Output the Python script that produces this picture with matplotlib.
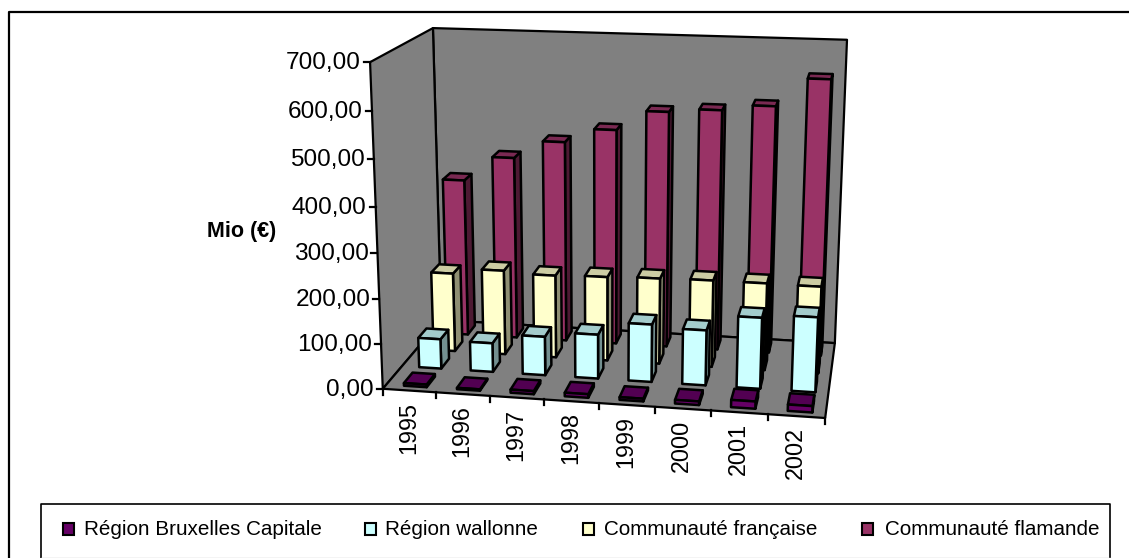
import numpy as np
import matplotlib
matplotlib.use('Agg')
import matplotlib.pyplot as plt
from matplotlib.patches import Polygon, Rectangle

plt.rcParams['font.family'] = ['Liberation Sans', 'DejaVu Sans']

years = ['1995', '1996', '1997', '1998', '1999', '2000', '2001', '2002']
series = ['Région Bruxelles Capitale', 'Région wallonne', 'Communauté française', 'Communauté flamande']
bruxelles = [6, 3, 7, 8, 6, 8, 16, 14]
wallonne = [68, 66, 88, 100, 130, 124, 159, 167]
francaise = [183, 196, 191, 194, 197, 199, 199, 198]
flamande = [369, 426, 467, 499, 544, 552, 565, 628]
values = [bruxelles, wallonne, francaise, flamande]
yticks = [0, 100, 200, 300, 400, 500, 600, 700]
ytick_labels = ['0,00', '100,00', '200,00', '300,00', '400,00', '500,00', '600,00', '700,00']

front = ['#660066', '#CCFFFF', '#FFFFCC', '#993366']
top = ['#520052', '#A3CCCC', '#CCCCA3', '#7A2952']
side = ['#330033', '#739090', '#8F8F73', '#4D1A33']

# box corners, pixels in the picture: (category, series, value) -> (px, py)
nx, ny, zmax = len(years), len(series), 700
known = [((0, 0, 0), (383, 388)), ((nx, 0, 0), (825, 419)), ((0, ny, 0), (441, 321)),
         ((nx, ny, 0), (835, 342)), ((0, 0, zmax), (370, 62)), ((0, ny, zmax), (433, 28)),
         ((nx, ny, zmax), (847, 40))]

rows, rhs = [], []
for (x, y, z), (px, py) in known:
    z = z / zmax
    rows.append([x, y, z, 1, 0, 0, 0, 0, -px * x, -px * y, -px * z])
    rows.append([0, 0, 0, 0, x, y, z, 1, -py * x, -py * y, -py * z])
    rhs += [px, py]
m = np.linalg.lstsq(np.array(rows, float), np.array(rhs, float), rcond=None)[0]
M = np.append(m, 1).reshape(3, 4)


def proj(x, y, z):
    p = M @ np.array([x, y, z / zmax, 1.0])
    return p[0] / p[2], p[1] / p[2]


fig = plt.figure(figsize=(11.29, 5.58), dpi=100)
ax = fig.add_axes([0, 0, 1, 1])
ax.set_xlim(0, 1129)
ax.set_ylim(558, 0)
ax.axis('off')

# outer frame and legend box
ax.plot([9, 9, 1129], [558, 12, 12], color='black', lw=1.6)
ax.plot([41, 41, 1110, 1110], [558, 504, 504, 558], color='black', lw=1.2)
ax.plot([41, 1110], [557.5, 557.5], color='#c8c8c8', lw=1)

# walls and floor
lw = 1.6
def face(pts, color, z=1, width=lw):
    ax.add_patch(Polygon([proj(*p) for p in pts], closed=True, facecolor=color,
                         edgecolor='black', lw=width, joinstyle='round', zorder=z))

face([(0, ny, 0), (nx, ny, 0), (nx, ny, zmax), (0, ny, zmax)], '#808080')
face([(0, 0, 0), (0, ny, 0), (0, ny, zmax), (0, 0, zmax)], '#808080')
face([(0, 0, 0), (nx, 0, 0), (nx, ny, 0), (0, ny, 0)], '#808080')

# value ticks
for v, lab in zip(yticks, ytick_labels):
    px, py = proj(0, 0, v)
    ax.plot([px - 6, px], [py, py], color='black', lw=lw)
    ax.text(px - 9, py + 1, lab, ha='right', va='center', fontsize=17.6, color='black')

# category ticks and labels
for i in range(nx + 1):
    px, py = proj(i, 0, 0)
    ax.plot([px, px], [py, py + 6], color='black', lw=lw)
for i, yr in enumerate(years):
    px, py = proj(i + 0.5, 0, 0)
    ax.text(px - 1, py + 11, yr, rotation=90, ha='center', va='top', fontsize=16.8, color='black')

ax.text(242, 232, 'Mio (€)', ha='center', va='center', fontsize=15.5, fontweight='bold')

# bars, back series first
hw, hd = 0.215, 0.28
for j in range(ny - 1, -1, -1):
    for i in range(nx):
        v = values[j][i]
        x0, x1 = i + 0.55 - hw, i + 0.55 + hw
        y0, y1 = j + 0.5 - hd, j + 0.5 + hd
        zo = 10 + (ny - j) * 10 + i
        face([(x1, y0, 0), (x1, y1, 0), (x1, y1, v), (x1, y0, v)], side[j], zo, 1.8)
        face([(x0, y0, v), (x1, y0, v), (x1, y1, v), (x0, y1, v)], top[j], zo, 1.8)
        face([(x0, y0, 0), (x1, y0, 0), (x1, y0, v), (x0, y0, v)], front[j], zo, 1.8)

# legend
swatch_x = [63, 365, 583, 862]
text_x = [84, 385, 604, 885]
for name, color, sx, tx in zip(series, front, swatch_x, text_x):
    ax.add_patch(Rectangle((sx, 523), 11, 12, facecolor=color, edgecolor='black', lw=1.5))
    ax.text(tx, 529.5, name, ha='left', va='center', fontsize=14.9, color='black')

fig.savefig('out.png', dpi=100)
